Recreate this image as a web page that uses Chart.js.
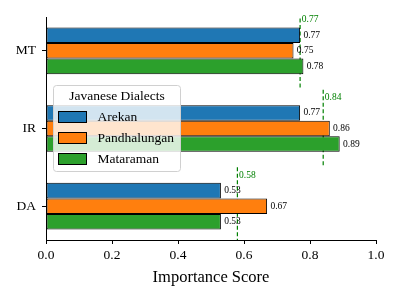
<!DOCTYPE html>
<html>
<head>
<meta charset="utf-8">
<script src="https://cdn.jsdelivr.net/npm/chart.js@4/dist/chart.umd.min.js"></script>
<style>
  body { margin: 0; background: #ffffff; }
  #wrap { width: 400px; height: 300px; }
</style>
</head>
<body>
<div id="wrap"><canvas id="chart" width="400" height="300"></canvas></div>
<script>
// Metrics shown top to bottom
const metrics = ['MT', 'IR', 'DA'];
// Scores per dialect, same order as metrics
const arekanScores = [0.77, 0.77, 0.53];
const pandhalunganScores = [0.75, 0.86, 0.67];
const mataramanScores = [0.78, 0.89, 0.53];
// Average score per metric (dashed green markers)
const averageScores = [0.77, 0.84, 0.58];
// X axis ticks
const scoreTicks = [0.0, 0.2, 0.4, 0.6, 0.8, 1.0];

const dialects = [
    { name: 'Arekan', scores: arekanScores, color: '#1f77b4' },
    { name: 'Pandhalungan', scores: pandhalunganScores, color: '#ff7f0e' },
    { name: 'Mataraman', scores: mataramanScores, color: '#2ca02c' }
];

const serif = '"Liberation Serif", "Times New Roman", serif';
const avgColor = '#008000';

// Bar datasets, one per dialect
const barSets = dialects.map(d => ({
    type: 'bar',
    label: d.name,
    data: d.scores.map((v, i) => ({ x: v, y: i })),
    backgroundColor: d.color,
    borderColor: '#000000',
    borderWidth: 1,
    borderSkipped: false,
    categoryPercentage: 0.6,
    barPercentage: 1.0
}));

// Dashed average lines, one segment per metric
const avgSets = averageScores.map((avg, i) => ({
    type: 'line',
    label: 'avg-' + metrics[i],
    data: [{ x: avg, y: i - 0.5 }, { x: avg, y: i + 0.5 }],
    borderColor: avgColor,
    borderWidth: 1.2,
    borderDash: [4, 2.5],
    pointRadius: 0,
    fill: false
}));

// Draws value labels, average labels and the legend box
const labelPlugin = {
    id: 'labelPlugin',
    afterDatasetsDraw(chart) {
        const ctx = chart.ctx;
        const xs = chart.scales.x;
        const ys = chart.scales.y;
        ctx.save();
        ctx.font = '9.5px ' + serif;
        ctx.textBaseline = 'middle';
        ctx.textAlign = 'left';
        ctx.fillStyle = '#000000';
        dialects.forEach((d, di) => {
            const meta = chart.getDatasetMeta(di);
            d.scores.forEach((v, i) => {
                const bar = meta.data[i];
                ctx.fillText(v.toFixed(2), xs.getPixelForValue(v + 0.01), bar.y);
            });
        });
        ctx.fillStyle = avgColor;
        averageScores.forEach((avg, i) => {
            ctx.fillText(avg.toFixed(2), xs.getPixelForValue(avg + 0.005), ys.getPixelForValue(i - 0.4));
        });
        ctx.restore();
    },
    afterDraw(chart) {
        const ctx = chart.ctx;
        const x0 = 53.5, y0 = 85.5, w = 127, h = 86;
        ctx.save();
        ctx.beginPath();
        ctx.roundRect(x0, y0, w, h, 3);
        ctx.fillStyle = 'rgba(255,255,255,0.8)';
        ctx.fill();
        ctx.strokeStyle = '#d0d0d0';
        ctx.lineWidth = 1;
        ctx.stroke();

        ctx.font = '13.5px ' + serif;
        ctx.fillStyle = '#000000';
        ctx.textBaseline = 'middle';
        ctx.textAlign = 'center';
        ctx.fillText('Javanese Dialects', x0 + w / 2, 96);

        ctx.textAlign = 'left';
        const rows = [117, 138, 159];
        dialects.forEach((d, i) => {
            ctx.fillStyle = d.color;
            ctx.fillRect(58.5, rows[i] - 5.5, 28, 11);
            ctx.strokeStyle = '#000000';
            ctx.strokeRect(58.5, rows[i] - 5.5, 28, 11);
            ctx.fillStyle = '#000000';
            ctx.fillText(d.name, 97.5, rows[i]);
        });
        ctx.restore();
    }
};

new Chart(document.getElementById('chart'), {
    type: 'bar',
    data: { datasets: [...barSets, ...avgSets] },
    options: {
        indexAxis: 'y',
        responsive: false,
        animation: false,
        layout: { padding: { top: 17, right: 24, left: 0, bottom: 0 } },
        plugins: {
            legend: { display: false },
            tooltip: { enabled: false }
        },
        scales: {
            x: {
                type: 'linear',
                position: 'bottom',
                min: 0,
                max: 1,
                offset: false,
                afterBuildTicks: s => { s.ticks = scoreTicks.map(v => ({ value: v })); },
                ticks: {
                    callback: v => v.toFixed(1),
                    color: '#000000',
                    font: { family: serif, size: 13.5 },
                    padding: 3,
                    maxRotation: 0
                },
                grid: { drawOnChartArea: false, offset: false, tickLength: 4, tickColor: '#000000', tickWidth: 1 },
                border: { color: '#000000', width: 1 },
                title: {
                    display: true,
                    text: 'Importance Score',
                    color: '#000000',
                    font: { family: serif, size: 16.5 },
                    padding: { top: 0, bottom: 12 }
                },
                afterFit: s => { s.height = 60; }
            },
            y: {
                type: 'linear',
                reverse: true,
                min: -0.436,
                max: 2.436,
                offset: false,
                afterBuildTicks: s => { s.ticks = metrics.map((m, i) => ({ value: i })); },
                ticks: {
                    callback: v => metrics[v],
                    color: '#000000',
                    font: { family: serif, size: 13.5 },
                    padding: 6
                },
                grid: { drawOnChartArea: false, offset: false, tickLength: 4, tickColor: '#000000', tickWidth: 1 },
                border: { color: '#000000', width: 1 },
                afterFit: s => { s.width = 46; }
            }
        }
    },
    plugins: [labelPlugin]
});
</script>
</body>
</html>
